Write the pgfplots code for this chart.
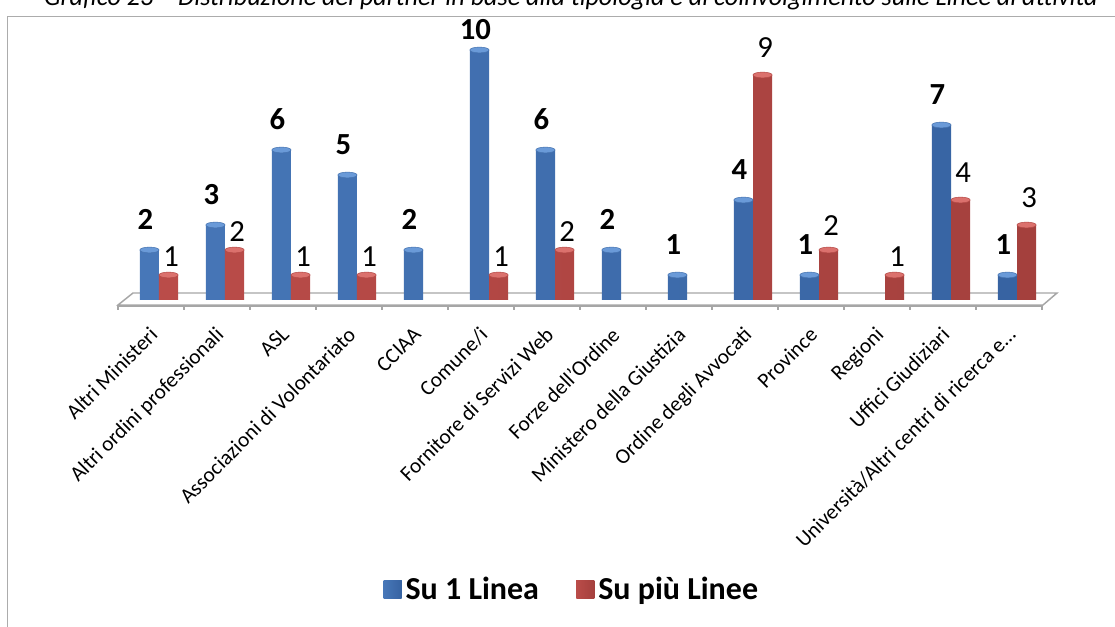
\documentclass[border=0pt]{standalone}
\usepackage{fontspec}
\setmainfont{Carlito}
\usepackage{pgfplots}
\usepackage{pgfplotstable}
\pgfplotsset{compat=1.18}
\definecolor{bL}{HTML}{4777B8}
\definecolor{bM}{HTML}{6C9DDD}
\definecolor{bR}{HTML}{3763A2}
\definecolor{bCap}{HTML}{6A9AD8}
\definecolor{bEdge}{HTML}{4673B0}
\definecolor{bLeg}{HTML}{4F81BD}
\definecolor{rL}{HTML}{BA4C49}
\definecolor{rM}{HTML}{DA6E6A}
\definecolor{rR}{HTML}{A4403D}
\definecolor{rCap}{HTML}{DB716D}
\definecolor{rEdge}{HTML}{B54A47}
\definecolor{rLeg}{HTML}{C0504D}
\definecolor{floorc}{HTML}{A6A6A6}

% x = category index, y = value, off = label offset (pt)
\pgfplotstableread{
x y off
0 2 15
1 3 15
2 6 15
3 5 15
4 2 15
5 10 7.5
6 6 15
7 2 15
8 1 15
9 4 15
10 1 15
12 7 15
13 1 15
}\bluedata
\pgfplotstableread{
x y off
0 1 6
1 2 6
2 1 6
3 1 6
5 1 6
6 2 6
9 9 12.75
10 2 11
11 1 6
12 4 12.75
13 3 12.75
}\reddata

\begin{document}
\begin{tikzpicture}
\useasboundingbox (-84.6pt,-235.875pt) rectangle (751.65pt,234.375pt);
\draw[gray!65, line width=1.4pt] (-79pt,-245pt) -- (-79pt,222pt) -- (760pt,222pt);
\node[font=\itshape\fontsize{19.6}{22}\selectfont, anchor=base] at (343.65pt,230pt)
  {Grafico 23 – Distribuzione dei partner in base alla tipologia e al coinvolgimento sulle Linee di attività};
\begin{axis}[
  at={(0pt,0pt)}, anchor=south west,
  x=49.5pt, y=18.75pt,
  xmin=-0.7, xmax=13.7, ymin=-0.5, ymax=11,
  clip=false,
  axis line style={draw=none},
  major tick length=0pt,
  ytick=\empty,
  xtick={0,...,13},
  xticklabels={Altri Ministeri,Altri ordini professionali,ASL,Associazioni di Volontariato,CCIAA,Comune/i,Fornitore di Servizi Web,Forze dell'Ordine,Ministero della Giustizia,Ordine degli Avvocati,Province,Regioni,Uffici Giudiziari,Università/Altri centri di ricerca e…},
  xticklabel style={xshift=-8pt, yshift=-9.8pt, rotate=45, anchor=north east, inner sep=0pt,
     font=\fontsize{16}{18}\selectfont},
  /pgf/number format/assume math mode=true,
  legend style={at={(0.484,-0.962)}, anchor=center, draw=none, fill=none,
     legend columns=2, font=\bfseries\fontsize{24}{26}\selectfont,
     /tikz/every even column/.append style={column sep=25pt},
     nodes={inner sep=3pt}},
]
% floor
\fill[white] (axis cs:-0.394,0.28) -- (axis cs:13.606,0.28) -- (axis cs:13.394,-0.2) -- (axis cs:-0.621,-0.2) -- cycle;
\draw[floorc, line width=1.1pt] (axis cs:-0.394,0.28) -- (axis cs:13.606,0.28) -- (axis cs:13.394,-0.2) -- (axis cs:-0.621,-0.2) -- cycle;
\draw[floorc, line width=1.6pt] (axis cs:-0.621,-0.24) -- (axis cs:13.394,-0.24);
\pgfplotsinvokeforeach{0,...,14}{
  \draw[floorc, line width=1.1pt] (axis cs:-0.621+#1,-0.2) -- (axis cs:-0.621+#1,-0.42);
}
\addplot[ybar, bar width=0.29, bar shift=0pt, draw=none,
   left color=bL, middle color=bM, right color=bR,
   mark=*, mark size=7.2pt, mark options={yscale=0.3, fill=bCap, draw=bEdge, line width=0.4pt},
   visualization depends on={\thisrow{off} \as \myoff},
   nodes near coords, point meta=y,
   every node near coord/.append style={font=\bfseries\fontsize{23}{24}\selectfont, text=black,
      anchor=south, inner sep=0pt, xshift=-3pt, yshift=\myoff pt},
   legend image code/.code={\fill[bLeg] (0pt,-6.75pt) rectangle (13.5pt,6.75pt);}
] table[x expr=\thisrow{x}-0.145, y=y] {\bluedata};
\addlegendentry{Su 1 Linea}
\addplot[ybar, bar width=0.29, bar shift=0pt, draw=none,
   left color=rL, middle color=rM, right color=rR,
   mark=*, mark size=7.2pt, mark options={yscale=0.3, fill=rCap, draw=rEdge, line width=0.4pt},
   visualization depends on={\thisrow{off} \as \myoff},
   nodes near coords, point meta=y,
   every node near coord/.append style={font=\fontsize{23}{24}\selectfont, text=black,
      anchor=south, inner sep=0pt, xshift=2pt, yshift=\myoff pt},
   legend image code/.code={\fill[rLeg] (0pt,-6.75pt) rectangle (13.5pt,6.75pt);}
] table[x expr=\thisrow{x}+0.145, y=y] {\reddata};
\addlegendentry{Su più Linee}
\end{axis}
\end{tikzpicture}
\end{document}
